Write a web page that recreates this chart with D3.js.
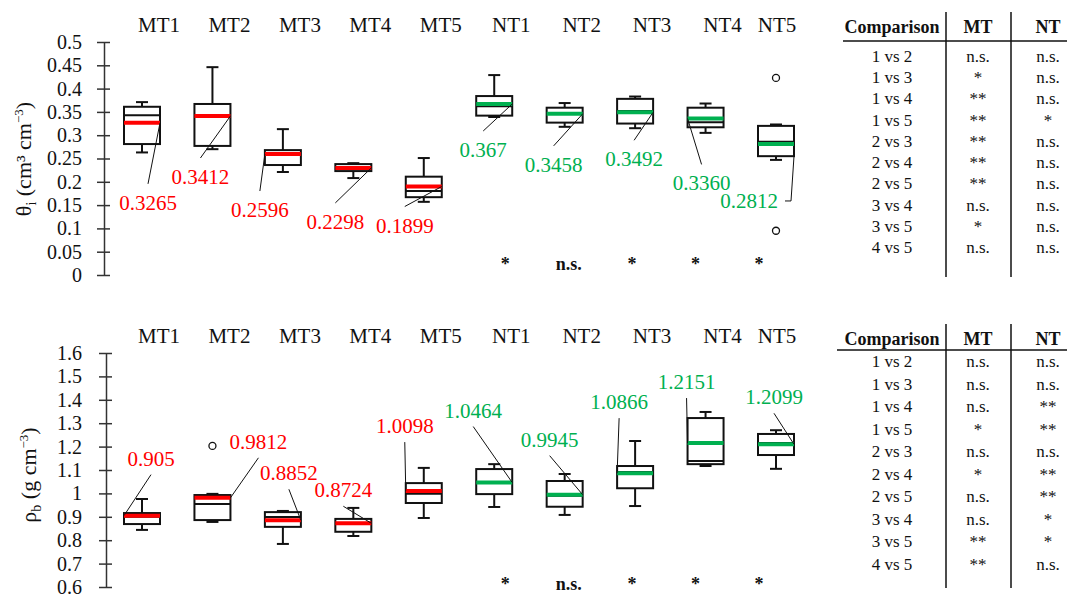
<!DOCTYPE html>
<html>
<head>
<meta charset="utf-8">
<script src="https://cdn.jsdelivr.net/npm/d3@7"></script>
<style>
  body { margin: 0; background: #fff; }
  svg text { font-family: "Liberation Serif", "Times New Roman", serif; }
</style>
</head>
<body>
<svg id="chart" width="1067" height="596"></svg>
<script>
// ---- data ----
const groups = ["MT1", "MT2", "MT3", "MT4", "MT5", "NT1", "NT2", "NT3", "NT4", "NT5"];

// volumetric water content
const thetaMin = [0.263, 0.270, 0.221, 0.208, 0.157, 0.339, 0.318, 0.315, 0.305, 0.247];
const thetaQ1 = [0.281, 0.277, 0.236, 0.223, 0.167, 0.342, 0.327, 0.325, 0.317, 0.255];
const thetaMedian = [0.343, 0.340, 0.262, 0.232, 0.180, 0.362, 0.346, 0.352, 0.328, 0.286];
const thetaQ3 = [0.361, 0.367, 0.268, 0.238, 0.211, 0.384, 0.359, 0.378, 0.359, 0.320];
const thetaMax = [0.371, 0.446, 0.313, 0.240, 0.251, 0.429, 0.369, 0.383, 0.368, 0.323];
const thetaMean = [0.3265, 0.3412, 0.2596, 0.2298, 0.1899, 0.367, 0.3458, 0.3492, 0.3360, 0.2812];
const thetaMeanText = ["0.3265", "0.3412", "0.2596", "0.2298", "0.1899", "0.367", "0.3458", "0.3492", "0.3360", "0.2812"];
const thetaOutliers = [["NT5", 0.423], ["NT5", 0.095]];
const thetaTicks = [0, 0.05, 0.1, 0.15, 0.2, 0.25, 0.3, 0.35, 0.4, 0.45, 0.5];
const thetaSig = ["*", "n.s.", "*", "*", "*"];

// bulk density
const rhoMin = [0.844, 0.878, 0.784, 0.818, 0.895, 0.942, 0.908, 0.946, 1.117, 1.105];
const rhoQ1 = [0.869, 0.886, 0.857, 0.836, 0.959, 0.997, 0.943, 1.022, 1.125, 1.164];
const rhoMedian = [0.900, 0.955, 0.899, 0.870, 0.998, 1.045, 0.990, 1.091, 1.138, 1.215];
const rhoQ3 = [0.916, 0.993, 0.920, 0.891, 1.044, 1.104, 1.053, 1.117, 1.322, 1.254];
const rhoMax = [0.976, 0.998, 0.925, 0.938, 1.109, 1.125, 1.083, 1.224, 1.348, 1.270];
const rhoMean = [0.905, 0.9812, 0.8852, 0.8724, 1.0098, 1.0464, 0.9945, 1.0866, 1.2151, 1.2099];
const rhoMeanText = ["0.905", "0.9812", "0.8852", "0.8724", "1.0098", "1.0464", "0.9945", "1.0866", "1.2151", "1.2099"];
const rhoOutliers = [["MT2", 1.203]];
const rhoTicks = [0.6, 0.7, 0.8, 0.9, 1, 1.1, 1.2, 1.3, 1.4, 1.5, 1.6];
const rhoSig = ["*", "n.s.", "*", "*", "*"];

// comparison tables
const comparisons = ["1 vs 2", "1 vs 3", "1 vs 4", "1 vs 5", "2 vs 3", "2 vs 4", "2 vs 5", "3 vs 4", "3 vs 5", "4 vs 5"];
const thetaMT = ["n.s.", "*", "**", "**", "**", "**", "**", "n.s.", "*", "n.s."];
const thetaNT = ["n.s.", "n.s.", "n.s.", "*", "n.s.", "n.s.", "n.s.", "n.s.", "n.s.", "n.s."];
const rhoMT = ["n.s.", "n.s.", "n.s.", "*", "n.s.", "*", "n.s.", "n.s.", "**", "**"];
const rhoNT = ["n.s.", "n.s.", "**", "**", "n.s.", "**", "**", "*", "*", "n.s."];

// ---- layout (label placement relative to each mean line) ----
// [dx from box centre, baseline dy from mean, leader attaches left/right]
const thetaLabelPos = [[6, 87, "r"], [-12, 68, "r"], [-23, 63, "l"], [-18, 61, "r"], [-19, 46, "r"],
                       [-11, 53, "r"], [-11, 58, "r"], [-1, 54, "r"], [-4, 72, "l"], [-27, 64, "e"]];
const rhoLabelPos = [[9, -50, "l"], [46, -49, "r"], [6, -40, "r"], [-10, -26, "r"], [-19, -58, "l"],
                     [-21, -65, "r"], [-15, -48, "r"], [-16, -64, "l"], [-19, -54, "l"], [-2, -40, "r"]];

const RED = "#ff0000", GREEN = "#00b050";
const boxW = 36, capW = 12;

const svg = d3.select("#chart");

const x = d3.scalePoint().domain(groups).range([142, 776]);

function drawPanel(cfg) {
  const y = d3.scaleLinear().domain(cfg.domain).range(cfg.range);
  const g = svg.append("g");

  // axis with ticks on both sides
  const ax = g.append("g")
    .attr("transform", "translate(" + cfg.axisX + ",0)")
    .call(d3.axisLeft(y)
      .tickValues(cfg.ticks)
      .tickSizeInner(7)
      .tickSizeOuter(0)
      .tickPadding(cfg.pad)
      .tickFormat(d => String(+d.toFixed(2))));
  ax.select(".domain").attr("stroke", "#333").attr("stroke-width", 1.5);
  ax.selectAll(".tick line").attr("x1", 6).attr("stroke", "#333").attr("stroke-width", 1.5);
  ax.selectAll(".tick text")
    .attr("fill", "#111")
    .style("font-family", "Liberation Serif")
    .style("font-size", "20px");

  // axis title
  const t = g.append("text")
    .attr("transform", "translate(" + cfg.titleX + "," + cfg.titleY + ") rotate(-90)")
    .attr("text-anchor", "middle")
    .style("font-size", "22px")
    .attr("fill", "#111");
  t.append("tspan").text(cfg.titleSym);
  t.append("tspan").text(cfg.titleSub).attr("dy", 5).style("font-size", "14px");
  t.append("tspan").text(" (" + cfg.titleUnit).attr("dy", -5);
  t.append("tspan").text(cfg.titleSup).attr("dy", -8).style("font-size", "13px");
  t.append("tspan").text(")").attr("dy", 8);

  // category labels
  g.selectAll(".cat")
    .data(groups)
    .enter().append("text")
    .attr("x", (d, i) => x(d) + (i < groups.length - 1 ? 17 : 1))
    .attr("y", y(cfg.domain[1]) - 10)
    .attr("text-anchor", "middle")
    .style("font-size", "21px")
    .attr("fill", "#111")
    .text(d => d);

  const rows = groups.map((d, i) => ({
    name: d, min: cfg.min[i], q1: cfg.q1[i], med: cfg.median[i], q3: cfg.q3[i],
    max: cfg.max[i], mean: cfg.mean[i], label: cfg.meanText[i], pos: cfg.labelPos[i],
    color: d.startsWith("MT") ? RED : GREEN
  }));

  const box = g.selectAll(".box").data(rows).enter().append("g");

  // whiskers
  box.append("line")
    .attr("x1", d => x(d.name)).attr("x2", d => x(d.name))
    .attr("y1", d => y(d.max)).attr("y2", d => y(d.q3))
    .attr("stroke", "#111").attr("stroke-width", 2);
  box.append("line")
    .attr("x1", d => x(d.name)).attr("x2", d => x(d.name))
    .attr("y1", d => y(d.q1)).attr("y2", d => y(d.min))
    .attr("stroke", "#111").attr("stroke-width", 2);
  box.append("line")
    .attr("x1", d => x(d.name) - capW / 2).attr("x2", d => x(d.name) + capW / 2)
    .attr("y1", d => y(d.max)).attr("y2", d => y(d.max))
    .attr("stroke", "#111").attr("stroke-width", 2);
  box.append("line")
    .attr("x1", d => x(d.name) - capW / 2).attr("x2", d => x(d.name) + capW / 2)
    .attr("y1", d => y(d.min)).attr("y2", d => y(d.min))
    .attr("stroke", "#111").attr("stroke-width", 2);

  // box
  box.append("rect")
    .attr("x", d => x(d.name) - boxW / 2)
    .attr("y", d => y(d.q3))
    .attr("width", boxW)
    .attr("height", d => y(d.q1) - y(d.q3))
    .attr("fill", "#fff")
    .attr("stroke", "#111").attr("stroke-width", 2);

  // median
  box.append("line")
    .attr("x1", d => x(d.name) - boxW / 2).attr("x2", d => x(d.name) + boxW / 2)
    .attr("y1", d => y(d.med)).attr("y2", d => y(d.med))
    .attr("stroke", "#111").attr("stroke-width", 2);

  // mean
  box.append("line")
    .attr("x1", d => x(d.name) - boxW / 2).attr("x2", d => x(d.name) + boxW / 2)
    .attr("y1", d => y(d.mean)).attr("y2", d => y(d.mean))
    .attr("stroke", d => d.color).attr("stroke-width", 4);

  // mean labels + leader lines
  box.append("path")
    .attr("fill", "none").attr("stroke", "#111").attr("stroke-width", 1)
    .attr("d", d => {
      const cx = x(d.name), my = y(d.mean);
      const lx = cx + d.pos[0], ly = my + d.pos[1];
      const sy = cfg.below ? ly - 26 : ly + 9;
      if (d.pos[2] === "e") {
        const ex = lx + 36;
        return "M" + ex + "," + (ly - 7) + "L" + (cx + 15) + "," + (ly - 7) + "L" + (cx + boxW / 2) + "," + y(d.q1);
      }
      const tx = d.pos[2] === "r" ? cx + boxW / 2 : cx - boxW / 2;
      return "M" + lx + "," + sy + "L" + tx + "," + my;
    });
  box.append("text")
    .attr("x", d => x(d.name) + d.pos[0])
    .attr("y", d => y(d.mean) + d.pos[1])
    .attr("text-anchor", "middle")
    .style("font-size", "21px")
    .attr("fill", d => d.color)
    .text(d => d.label);

  // outliers
  g.selectAll(".out").data(cfg.outliers).enter().append("circle")
    .attr("cx", d => x(d[0])).attr("cy", d => y(d[1]))
    .attr("r", 3.5).attr("fill", "#fff").attr("stroke", "#111").attr("stroke-width", 1.3);

  // NT vs MT significance
  const nt = groups.slice(5);
  const sx = d3.scalePoint().domain(nt).range([x("NT1") + 11, x("NT5") - 17]);
  g.selectAll(".sig").data(cfg.sig).enter().append("text")
    .attr("x", (d, i) => sx(nt[i]))
    .attr("y", cfg.sigY)
    .attr("text-anchor", "middle")
    .style("font-size", "18px")
    .style("font-weight", "bold")
    .attr("fill", "#111")
    .text(d => d);
}

function drawTable(cfg) {
  const g = svg.append("g");
  const colX = [892, 978, 1048];
  g.append("line").attr("x1", 946).attr("x2", 946).attr("y1", cfg.top).attr("y2", cfg.bottom)
    .attr("stroke", "#111").attr("stroke-width", 1.5);
  g.append("line").attr("x1", 1011).attr("x2", 1011).attr("y1", cfg.top).attr("y2", cfg.bottom)
    .attr("stroke", "#111").attr("stroke-width", 1.5);
  g.append("line").attr("x1", cfg.ruleX).attr("x2", 1067).attr("y1", cfg.ruleY).attr("y2", cfg.ruleY)
    .attr("stroke", "#111").attr("stroke-width", 1.5);
  g.selectAll(".hd").data(["Comparison", "MT", "NT"]).enter().append("text")
    .attr("x", (d, i) => colX[i]).attr("y", cfg.headY)
    .attr("text-anchor", "middle")
    .style("font-size", "18px").style("font-weight", "bold")
    .attr("fill", "#111")
    .text(d => d);
  const ry = d3.scalePoint().domain(comparisons).range(cfg.rowRange);
  comparisons.forEach((c, i) => {
    [c, cfg.mt[i], cfg.nt[i]].forEach((v, j) => {
      g.append("text")
        .attr("x", colX[j]).attr("y", ry(c))
        .attr("text-anchor", "middle")
        .style("font-size", "17px")
        .attr("fill", "#111")
        .text(v);
    });
  });
}

drawPanel({
  domain: [0, 0.5], range: [275, 42], ticks: thetaTicks, axisX: 104, pad: 15,
  min: thetaMin, q1: thetaQ1, median: thetaMedian, q3: thetaQ3, max: thetaMax,
  mean: thetaMean, meanText: thetaMeanText, labelPos: thetaLabelPos, below: true,
  outliers: thetaOutliers, sig: thetaSig, sigY: 270,
  titleX: 31, titleY: 159, titleSym: "θ", titleSub: "i", titleUnit: "cm³ cm", titleSup: "−3"
});

drawPanel({
  domain: [0.6, 1.6], range: [587, 353], ticks: rhoTicks, axisX: 106, pad: 17,
  min: rhoMin, q1: rhoQ1, median: rhoMedian, q3: rhoQ3, max: rhoMax,
  mean: rhoMean, meanText: rhoMeanText, labelPos: rhoLabelPos, below: false,
  outliers: rhoOutliers, sig: rhoSig, sigY: 590,
  titleX: 36, titleY: 475, titleSym: "ρ", titleSub: "b", titleUnit: "g cm", titleSup: "−3"
});

drawTable({ top: 12, bottom: 277, ruleX: 843, ruleY: 41, headY: 33, rowRange: [62, 253],
  mt: thetaMT, nt: thetaNT });
drawTable({ top: 324, bottom: 588, ruleX: 837, ruleY: 350, headY: 345, rowRange: [367, 570],
  mt: rhoMT, nt: rhoNT });
</script>
</body>
</html>
